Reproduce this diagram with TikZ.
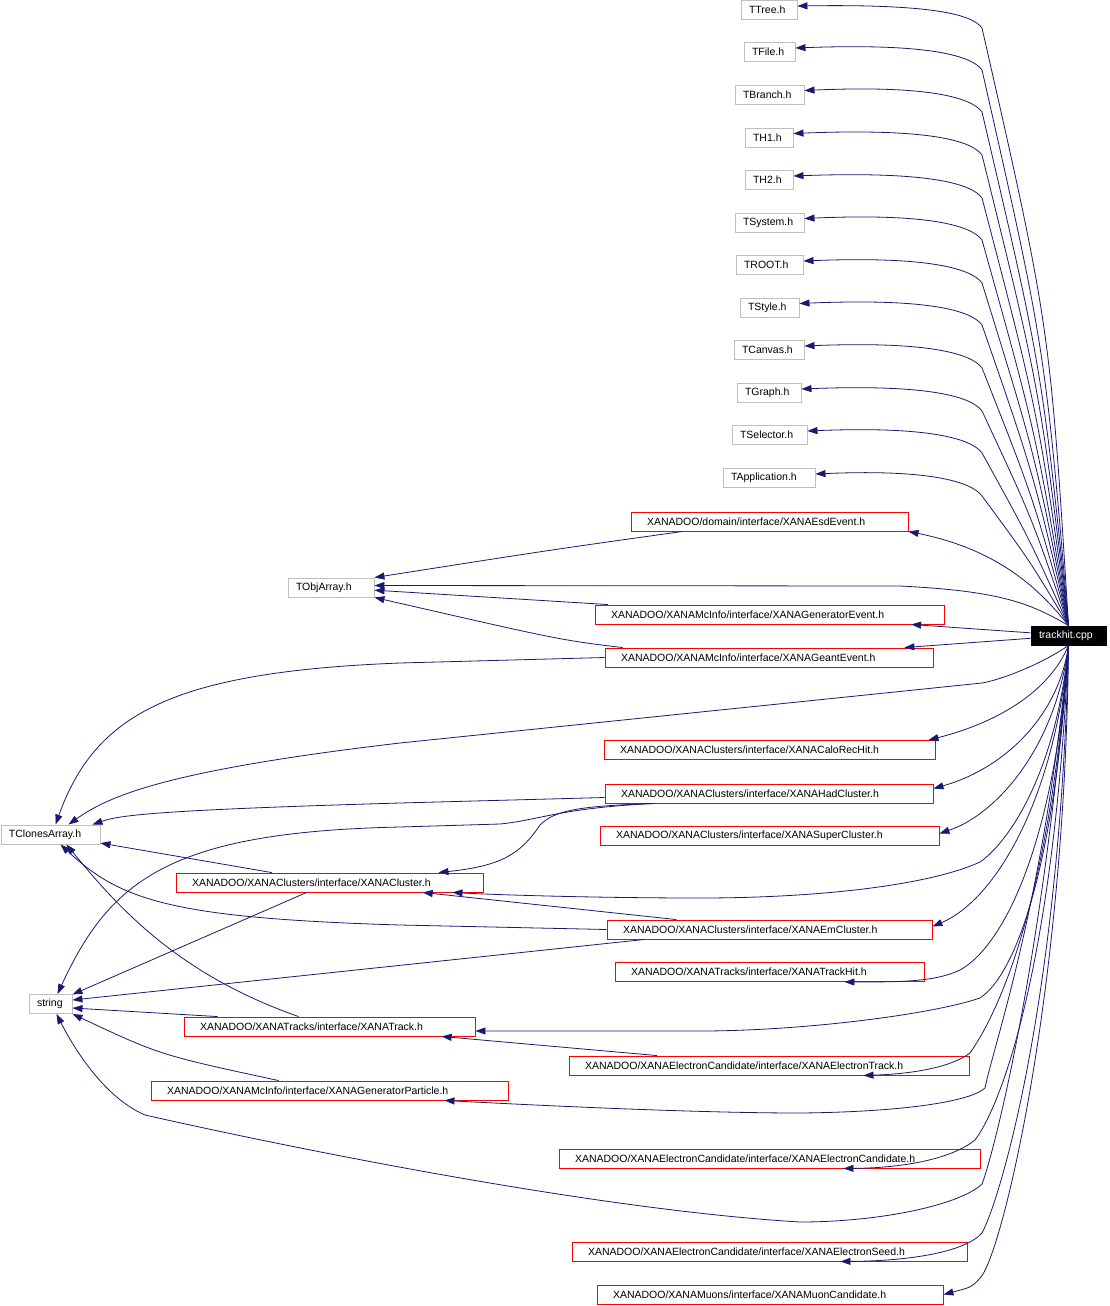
\documentclass[tikz,border=0pt]{standalone}
\usepackage{fontspec}
\setmainfont{Liberation Sans}
\usetikzlibrary{arrows.meta,calc}
\definecolor{edgeblue}{HTML}{191970}
\definecolor{boxgrey}{HTML}{BFBFBF}
\tikzset{
  grayfile/.style={draw=boxgrey, line width=0.9pt, minimum height=19pt, inner xsep=8pt, inner ysep=0pt, align=left, font=\fontsize{10.5}{12}\selectfont},
  redfile/.style={grayfile, draw=red, inner xsep=16pt},
  mainfile/.style={grayfile, draw=black, fill=black, text=white},
  inc/.style={draw=edgeblue, line width=0.8pt, -{Triangle[length=10pt,width=7pt]}},
}

\begin{document}
\begin{tikzpicture}[x=1pt,y=-1pt]

    \useasboundingbox (0,0) rectangle (1109,1306);

    \node[grayfile, text width=40pt] (ttree) at (769,10) {TTree.h};
    \node[grayfile, text width=35pt] (tfile) at (769.5,52) {TFile.h};
    \node[grayfile, text width=53pt] (tbranch) at (769.5,94.5) {TBranch.h};
    \node[grayfile, text width=32pt] (th1) at (769,137.5) {TH1.h};
    \node[grayfile, text width=32pt] (th2) at (769,180) {TH2.h};
    \node[grayfile, text width=53pt] (tsystem) at (769.5,222.5) {TSystem.h};
    \node[grayfile, text width=51pt] (troot) at (769.5,265) {TROOT.h};
    \node[grayfile, text width=43pt] (tstyle) at (769.5,307.5) {TStyle.h};
    \node[grayfile, text width=54pt] (tcanvas) at (769,350) {TCanvas.h};
    \node[grayfile, text width=48pt] (tgraph) at (769,393) {TGraph.h};
    \node[grayfile, text width=59pt] (tselector) at (769.5,435) {TSelector.h};
    \node[grayfile, text width=76pt] (tapp) at (769,478) {TApplication.h};
    \node[redfile, text width=245pt] (esd) at (769.5,521.5) {XANADOO/domain/interface/XANAEsdEvent.h};
    \node[grayfile, text width=70pt] (tobj) at (331,587.5) {TObjArray.h};
    \node[redfile, text width=317pt] (genev) at (769.5,614.5) {XANADOO/XANAMcInfo/interface/XANAGeneratorEvent.h};
    \node[mainfile, text width=59pt] (th) at (1068.5,635.5) {trackhit.cpp};
    \node[redfile, text width=296pt] (geant) at (769,657.5) {XANADOO/XANAMcInfo/interface/XANAGeantEvent.h};
    \node[redfile, text width=299pt] (calo) at (769.5,750) {XANADOO/XANAClusters/interface/XANACaloRecHit.h};
    \node[redfile, text width=296pt] (had) at (769,793.5) {XANADOO/XANAClusters/interface/XANAHadCluster.h};
    \node[redfile, text width=307pt] (super) at (769.5,835.5) {XANADOO/XANAClusters/interface/XANASuperCluster.h};
    \node[grayfile, text width=83pt] (tclones) at (50.5,834.5) {TClonesArray.h};
    \node[redfile, text width=275pt] (cluster) at (329.5,882.5) {XANADOO/XANAClusters/interface/XANACluster.h};
    \node[redfile, text width=293pt] (em) at (769.5,929.5) {XANADOO/XANAClusters/interface/XANAEmCluster.h};
    \node[redfile, text width=277pt] (trkhit) at (769.5,972) {XANADOO/XANATracks/interface/XANATrackHit.h};
    \node[grayfile, text width=27pt] (string) at (50.5,1004) {string};
    \node[redfile, text width=259pt] (track) at (329.5,1026.5) {XANADOO/XANATracks/interface/XANATrack.h};
    \node[redfile, text width=368pt] (eltrack) at (769,1065.5) {XANADOO/XANAElectronCandidate/interface/XANAElectronTrack.h};
    \node[redfile, text width=325pt] (genpart) at (329.5,1090.5) {XANADOO/XANAMcInfo/interface/XANAGeneratorParticle.h};
    \node[redfile, text width=389pt] (elcand) at (769.5,1158.5) {XANADOO/XANAElectronCandidate/interface/XANAElectronCandidate.h};
    \node[redfile, text width=363pt] (elseed) at (769.5,1251.5) {XANADOO/XANAElectronCandidate/interface/XANAElectronSeed.h};
    \node[redfile, text width=314pt] (muon) at (770,1294.5) {XANADOO/XANAMuons/interface/XANAMuonCandidate.h};

    \draw[inc] (th.north) .. controls (1050,327) .. (982,28) .. controls (972,14) and (930,4) .. ($(ttree.east)+(0,-4)$);
    \draw[inc] (th.north) .. controls (1045,348) .. (982,70) .. controls (972,56) and (930,43) .. ($(tfile.east)+(0,-4)$);
    \draw[inc] (th.north) .. controls (1042,369) .. (982,112) .. controls (972,98) and (930,85) .. ($(tbranch.east)+(0,-4)$);
    \draw[inc] (th.north) .. controls (1040,390) .. (982,155) .. controls (972,141) and (930,128) .. ($(th1.east)+(0,-4)$);
    \draw[inc] (th.north) .. controls (1038,412) .. (982,198) .. controls (972,184) and (930,171) .. ($(th2.east)+(0,-4)$);
    \draw[inc] (th.north) .. controls (1036,433) .. (982,240) .. controls (972,226) and (930,213) .. ($(tsystem.east)+(0,-4)$);
    \draw[inc] (th.north) .. controls (1035,454) .. (982,283) .. controls (972,269) and (930,256) .. ($(troot.east)+(0,-4)$);
    \draw[inc] (th.north) .. controls (1034,475) .. (982,325) .. controls (972,311) and (930,298) .. ($(tstyle.east)+(0,-4)$);
    \draw[inc] (th.north) .. controls (1033,497) .. (982,368) .. controls (972,354) and (930,341) .. ($(tcanvas.east)+(0,-4)$);
    \draw[inc] (th.north) .. controls (1032,518) .. (982,411) .. controls (972,397) and (930,384) .. ($(tgraph.east)+(0,-4)$);
    \draw[inc] (th.north) .. controls (1030,540) .. (982,453) .. controls (972,439) and (930,426) .. ($(tselector.east)+(0,-4)$);
    \draw[inc] (th.north) .. controls (1030,561) .. (982,496) .. controls (972,482) and (930,469) .. ($(tapp.east)+(0,-4)$);

    \draw[inc] (th.north) .. controls (1040,590) and (1000,550) .. (esd.south east);
    \draw[inc] (th.north) .. controls (1030,603) and (1000,591) .. (900,586) -- ($(tobj.east)+(0,-2)$);
    \draw[inc] (th) -- (genev);
    \draw[inc] (th) -- (geant);
    \draw[inc] (th.south) .. controls (1040,665) and (1000,680) .. (982,683) -- (400,743) .. controls (170,770) and (110,795) .. ($(tclones.north)+(18,0)$);

    \draw[inc] (th.south) .. controls (1050,690) and (1000,722) .. ($(calo.north east)+(-7,0)$);
    \draw[inc] (th.south) .. controls (1058,720) and (1000,770) .. ($(had.east)+(0,-5)$);
    \draw[inc] (th.south) .. controls (1055,750) and (995,815) .. ($(super.east)+(0,-2)$);
    \draw[inc] (th.south) .. controls (1055,780) and (1005,845) .. (980,862) .. controls (930,885) and (820,898) .. (700,898) .. controls (600,898) and (500,895) .. ($(cluster.south east)+(-31,0)$);
    \draw[inc] (th.south) .. controls (1055,800) and (995,900) .. ($(em.east)+(0,-3)$);
    \draw[inc] (th.south) .. controls (1055,840) and (1005,945) .. (960,970) .. controls (935,982) and (900,982) .. ($(trkhit.south east)+(-80,0)$);
    \draw[inc] (th.south) .. controls (1055,870) and (1015,975) .. (980,998) .. controls (930,1015) and (800,1031) .. (700,1031) -- ($(track.east)+(0,4.5)$);
    \draw[inc] (th.south) .. controls (1050,900) and (1000,1010) .. (970,1053) .. controls (950,1068) and (910,1074) .. ($(eltrack.south east)+(-106,0)$);
    \draw[inc] (th.south) .. controls (1045,900) and (995,1040) .. (985,1088) .. controls (970,1102) and (900,1112) .. (800,1113) .. controls (700,1113) and (550,1106) .. ($(genpart.south east)+(-64,0)$);
    \draw[inc] (th.south) .. controls (1055,950) and (1005,1100) .. (975,1140) .. controls (950,1160) and (900,1168) .. ($(elcand.south east)+(-137,0)$);
    \draw[inc] (th.south) .. controls (1045,950) and (995,1150) .. (982,1184) .. controls (960,1205) and (880,1222) .. (800,1222) .. controls (600,1210) and (300,1150) .. (145,1115) .. controls (110,1100) and (80,1060) .. ($(string.south)+(6,0)$);
    \draw[inc] (th.south) .. controls (1060,1000) and (1000,1200) .. (982,1233) .. controls (965,1252) and (910,1261) .. ($(elseed.south east)+(-127,0)$);
    \draw[inc] (th.south) .. controls (1065,1000) and (1000,1260) .. (980,1278) .. controls (972,1287) .. (muon.east);

    \draw[inc] ($(esd.south west)+(52,0)$) .. controls (550,550) .. (tobj.north east);
    \draw[inc] (genev) -- (tobj);
    \draw[inc] ($(geant.north west)+(18,0)$) .. controls (560,640) .. (tobj.south east);
    \draw[inc] (geant.west) -- (400,663) .. controls (170,672) and (95,715) .. ($(tclones.north)+(5,0)$);
    \draw[inc] ($(had.west)+(0,4)$) -- (400,803) .. controls (160,810) and (120,815) .. ($(tclones.north east)+(-8,0)$);
    \draw[inc] ($(had.south west)+(50,0)$) .. controls (560,808) and (540,820) .. (500,824) -- (400,827) .. controls (170,832) and (110,880) .. ($(string.north)+(7,0)$);
    \draw[inc] ($(had.south west)+(50,0)$) .. controls (580,806) and (555,810) .. (540,825) .. controls (520,855) and (500,866) .. ($(cluster.north east)+(-45,0)$);
    \draw[inc] (cluster) -- (tclones);
    \draw[inc] (cluster) -- (string);
    \draw[inc] (em) -- (cluster);
    \draw[inc] (em.west) -- (400,925) .. controls (170,918) and (120,900) .. ($(tclones.south)+(10,0)$);
    \draw[inc] ($(em.south west)+(38,0)$) -- ($(string.east)+(0,-4)$);
    \draw[inc] ($(track.north west)+(115,0)$) .. controls (180,975) and (120,910) .. ($(tclones.south)+(16,0)$);
    \draw[inc] ($(track.north west)+(34,0)$) -- ($(string.east)+(0,4)$);
    \draw[inc] ($(genpart.north west)+(128,0)$) .. controls (160,1055) .. (string.south east);
    \draw[inc] (eltrack) -- (track);

\end{tikzpicture}
\end{document}
